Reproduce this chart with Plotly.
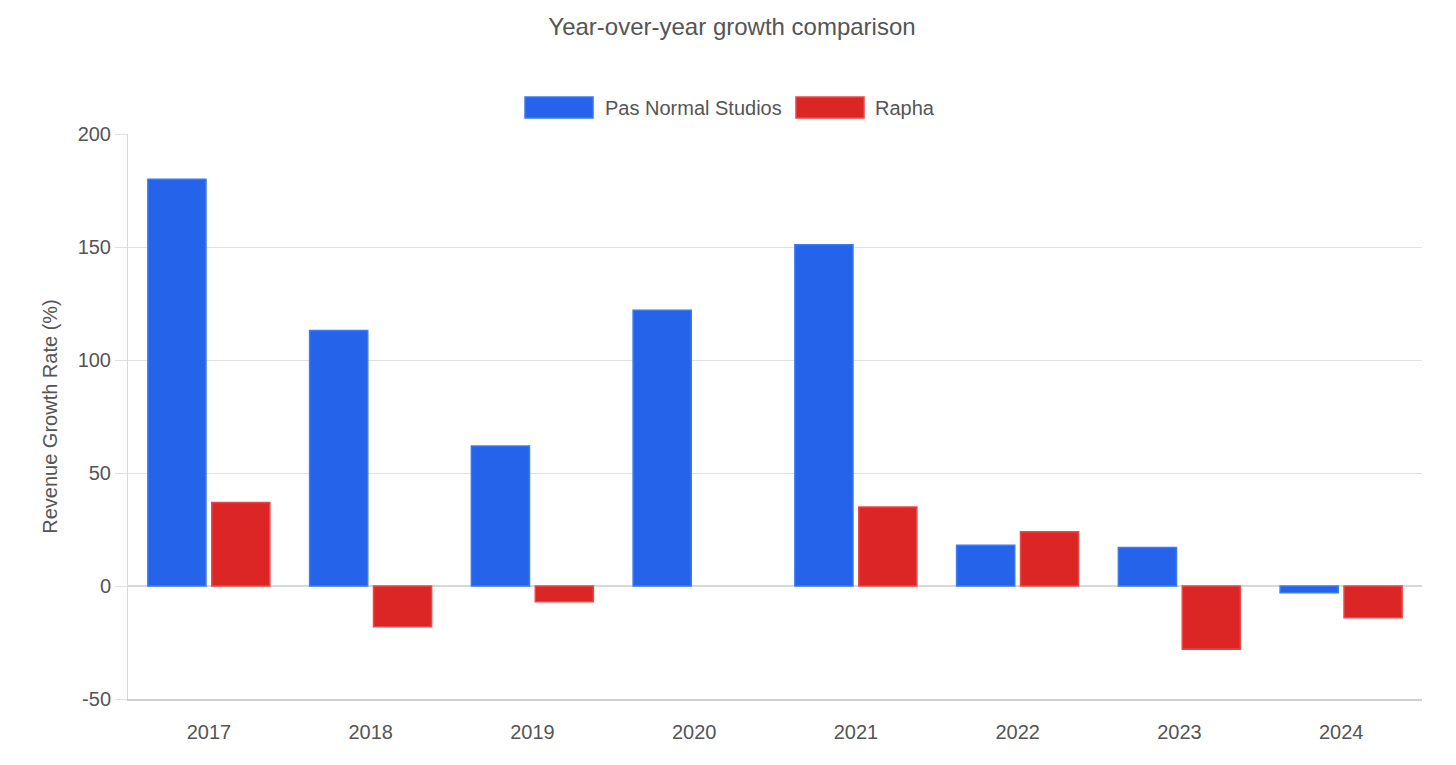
import plotly.graph_objects as go

years = ["2017", "2018", "2019", "2020", "2021", "2022", "2023", "2024"]
pns = [180, 113, 62, 122, 151, 18, 17, -3]
rapha = [37, -18, -7, 0, 35, 24, -28, -14]
y_ticks = [-50, 0, 50, 100, 150, 200]
y_tick_text = ["-50", "0", "50", "100", "150", "200"]
series_names = ["Pas Normal Studios", "Rapha"]
fill_colors = ["#2563eb", "#dc2626"]
line_colors = ["#3b7bf0", "#e84a4a"]

FONT = "Liberation Sans, Arial, Helvetica, sans-serif"
TXT = "#555"

fig = go.Figure()
for name, vals, fc, lc in zip(series_names, [pns, rapha], fill_colors, line_colors):
    fig.add_trace(go.Bar(
        x=years, y=vals, name=name, showlegend=False,
        marker=dict(color=fc, line=dict(color=lc, width=[0 if v == 0 else 1.5 for v in vals])),
    ))

# custom legend (wide swatches like the reference)
legend_items = [
    (0.3068, 0.3594, 0.3671),
    (0.5162, 0.5688, 0.5757),
]
for (x0, x1, xt), name, fc, lc in zip(legend_items, series_names, fill_colors, line_colors):
    fig.add_shape(type="rect", xref="paper", yref="paper", x0=x0, x1=x1, y0=1.0283, y1=1.0655,
                  fillcolor=fc, line=dict(color=lc, width=1.5))
    fig.add_annotation(xref="paper", yref="paper", x=xt, y=1.0469, text=name, showarrow=False,
                       xanchor="left", yanchor="middle", font=dict(size=20, color=TXT))

fig.update_layout(
    width=1448, height=757,
    paper_bgcolor="white", plot_bgcolor="white",
    font=dict(family=FONT, color=TXT, size=20),
    title=dict(text="Year-over-year growth comparison", x=0.5, xanchor="center",
               y=0.976, yanchor="middle", font=dict(size=24, color=TXT)),
    margin=dict(l=120, r=34, t=126, b=66),
    barmode="group", bargap=0.21, bargroupgap=0.09,
    showlegend=False,
)
fig.update_xaxes(
    showgrid=False, showline=True, linecolor="#d0d0d0", linewidth=1.5,
    ticks="outside", ticklen=14, tickcolor="rgba(0,0,0,0)",
    tickfont=dict(size=20, color=TXT), fixedrange=True,
)
fig.update_yaxes(
    range=[-50, 200], tickvals=y_ticks, ticktext=y_tick_text,
    showgrid=True, gridcolor="#e0e0e0", gridwidth=1,
    zeroline=True, zerolinecolor="#d8d8d8", zerolinewidth=1.5,
    showline=True, linecolor="#d8d8d8", linewidth=1,
    ticks="outside", ticklen=12, tickcolor="#e0e0e0",
    tickfont=dict(size=20, color=TXT),
    title=dict(text="Revenue Growth Rate (%)", font=dict(size=20, color=TXT), standoff=14),
)

fig.write_html("out.html")
